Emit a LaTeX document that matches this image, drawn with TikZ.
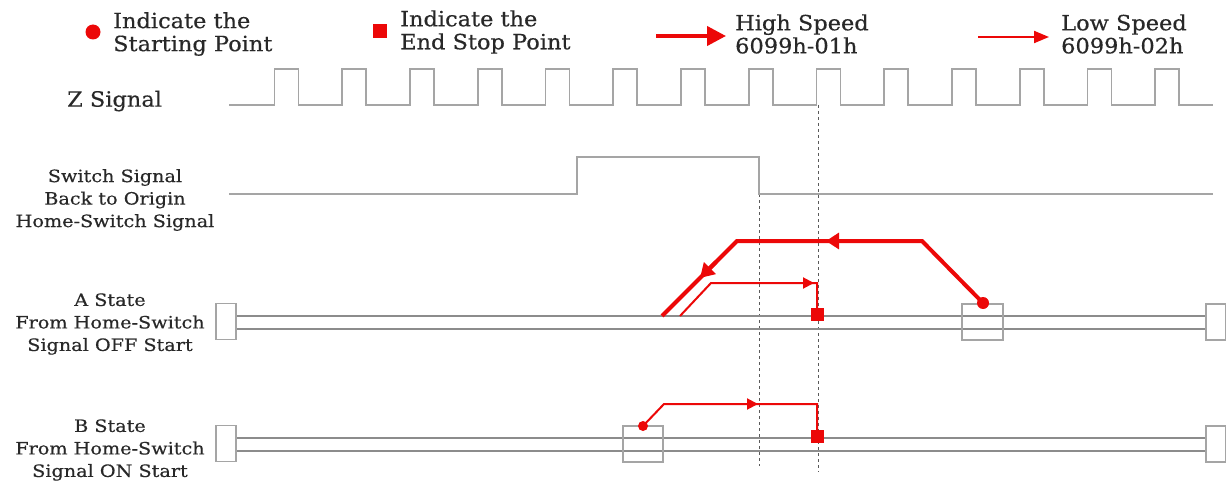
\documentclass[tikz,border=0pt]{standalone}
\usepackage{fontspec}
\setmainfont{DejaVu Serif}
\newfontfamily\bigfnt[FakeStretch=1.07,FakeBold=0.4]{DejaVu Serif}
\newfontfamily\lblfnt[FakeStretch=1.13,FakeBold=0.4]{DejaVu Serif}
\usetikzlibrary{arrows.meta}
\definecolor{sigred}{RGB}{236,8,8}
\definecolor{siggray}{RGB}{165,165,165}
\definecolor{railgray}{RGB}{140,140,140}
\definecolor{txtgray}{RGB}{40,40,40}
\definecolor{dashgray}{RGB}{90,90,90}
\begin{document}
\begin{tikzpicture}[x=1pt,y=-1pt,
  bigtxt/.style={text=txtgray,font=\bigfnt\fontsize{21}{23}\selectfont,align=left,inner sep=0pt},
  lbltxt/.style={text=txtgray,font=\lblfnt\fontsize{17}{22.5}\selectfont,align=center,inner sep=0pt},
  sigline/.style={draw=siggray,line width=1.8pt},
  railline/.style={draw=railgray,line width=1.3pt},
  endbox/.style={draw=siggray,line width=1.2pt,fill=white},
  guide/.style={draw=dashgray,line width=0.8pt,dash pattern=on 3pt off 3pt},
  hs/.style={draw=sigred,line width=4pt},
  ls/.style={draw=sigred,line width=2pt},
  hshead/.style={sigred,line width=4pt,-{Triangle[length=14pt,width=17pt]}},
  lshead/.style={sigred,line width=2pt,-{Triangle[length=11pt,width=11pt]}},
  startdot/.style={circle,fill=sigred,inner sep=0pt},
  stopsq/.style={rectangle,fill=sigred,inner sep=0pt,minimum size=13pt}]
\useasboundingbox (0,0) rectangle (1226,484);
\fill[white] (0,0) rectangle (1226,484);

% ---------- legend ----------
\node[startdot,minimum size=15pt] (ldot) at (93,32) {};
\node[bigtxt,anchor=west] (ltxt1) at (113,34) {Indicate the\\Starting Point};
\node[stopsq,minimum size=14pt] (lsq) at (380,31) {};
\node[bigtxt,anchor=west] (ltxt2) at (400,32) {Indicate the\\End Stop Point};
\coordinate (lh1) at (656,36);
\coordinate (lh2) at (726,36);
\draw[hshead,-{Triangle[length=19pt,width=19pt]}] (lh1) -- (lh2);
\node[bigtxt,anchor=west] (ltxt3) at (735,34) {High Speed\\6099h-01h};
\coordinate (ll1) at (978,37);
\coordinate (ll2) at (1049,37);
\draw[lshead,-{Triangle[length=15pt,width=12pt]}] (ll1) -- (ll2);
\node[bigtxt,anchor=west] (ltxt4) at (1061,34) {Low Speed\\6099h-02h};

% ---------- left labels ----------
\node[bigtxt,anchor=west] (zlbl) at (67,101) {Z Signal};
\node[lbltxt] (swlbl) at (115,200) {Switch Signal\\Back to Origin\\Home-Switch Signal};
\node[lbltxt] (albl) at (110,324) {A State\\From Home-Switch\\Signal OFF Start};
\node[lbltxt] (blbl) at (110,450) {B State\\From Home-Switch\\Signal ON Start};

% ---------- guides ----------
\coordinate (g1t) at (759,194);
\coordinate (g1b) at (759,466);
\coordinate (g2t) at (818,105);
\coordinate (g2b) at (818,472);
\draw[guide] (g1t) -- (g1b);
\draw[guide] (g2t) -- (g2b);

% ---------- Z signal ----------
\draw[sigline] (229,105)
  \foreach \k in {0,...,13} {
    -- ({274.5+67.75*\k},105) -- ({274.5+67.75*\k},69)
    -- ({298.5+67.75*\k},69) -- ({298.5+67.75*\k},105)
  } -- (1213,105);

% ---------- switch signal ----------
\draw[sigline] (229,194) -- (577,194) -- (577,157) -- (759,157) -- (759,194) -- (1213,194);

% ---------- A state rails ----------
\draw[railline] (236,316) -- (1207,316);
\draw[railline] (236,329) -- (1207,329);
\node[endbox,minimum width=20pt,minimum height=36pt] (aL) at (226,321.5) {};
\node[endbox,minimum width=20pt,minimum height=36pt] (aR) at (1216,322) {};
\node[draw=siggray,line width=1.2pt,minimum width=41pt,minimum height=36pt,inner sep=0pt] (aS) at (982.5,322) {};

% ---------- B state rails ----------
\draw[railline] (236,438) -- (1207,438);
\draw[railline] (236,451) -- (1207,451);
\node[endbox,minimum width=20pt,minimum height=36pt] (bL) at (226,443.5) {};
\node[endbox,minimum width=20pt,minimum height=36pt] (bR) at (1216,444) {};
\node[draw=siggray,line width=1.2pt,minimum width=40pt,minimum height=36pt,inner sep=0pt] (bS) at (643,444) {};

% ---------- A state paths ----------
\node[startdot,minimum size=12pt] (adot) at (983,303) {};
\coordinate (ah1) at (922,241);
\coordinate (ah2) at (737,241);
\coordinate (ah3) at (662,316);
\draw[hs,line join=miter] (adot.center) -- (ah1) -- (ah2) -- (ah3);
\draw[hshead,-{Triangle[length=13pt,width=16pt]}] (850,241) -- (826,241);
\draw[hshead,-{Triangle[length=14pt,width=16pt]}] (716,262) -- (700,278);
\node[stopsq] (asq) at (817,314) {};
\coordinate (al0) at (680,316);
\coordinate (al1) at (711,283);
\coordinate (al2) at (817,283);
\draw[ls] (al0) -- (al1) -- (al2) -- (asq.center);
\draw[lshead] (795,283) -- (814,283);

% ---------- B state paths ----------
\node[startdot,minimum size=10pt] (bdot) at (643,426) {};
\coordinate (bl1) at (664,404);
\coordinate (bl2) at (817,404);
\node[stopsq] (bsq) at (817,436) {};
\draw[ls] (bdot.center) -- (bl1) -- (bl2) -- (bsq.center);
\draw[lshead] (740,404) -- (758,404);
\end{tikzpicture}
\end{document}
